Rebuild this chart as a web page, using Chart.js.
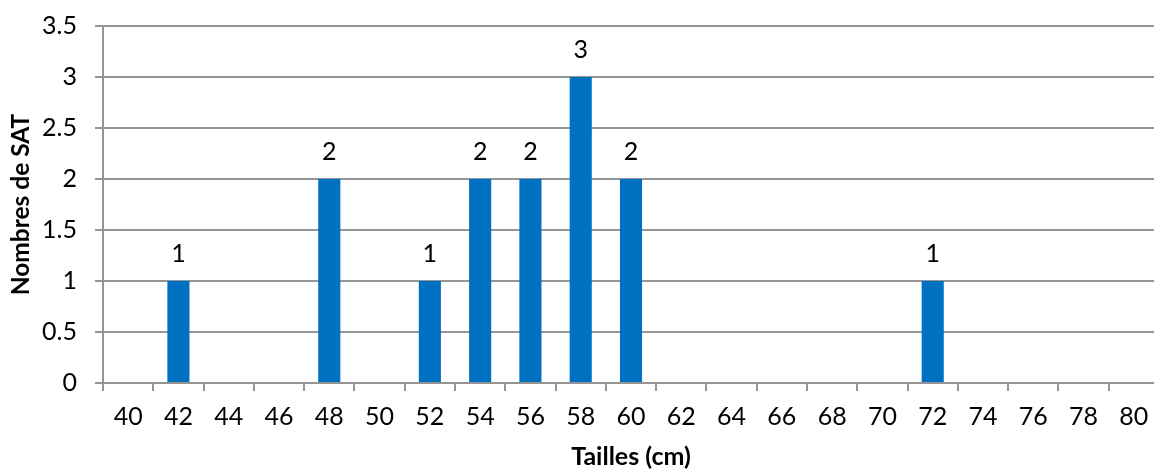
<!DOCTYPE html>
<html>
<head>
<meta charset="utf-8">
<script src="https://cdn.jsdelivr.net/npm/chart.js@4"></script>
<style>
  html, body { margin: 0; padding: 0; background: #fff; overflow: hidden; }
  #wrap { width: 1154px; height: 469px; overflow: hidden; position: relative; }
  canvas { display: block; }
</style>
</head>
<body>
<div id="wrap"><canvas id="c" width="1166" height="469" style="width:1166px;height:469px"></canvas></div>
<script>
// Data
const categories = ['40','42','44','46','48','50','52','54','56','58','60','62','64','66','68','70','72','74','76','78','80'];
const counts     = [null, 1, null, null, 2, null, 1, 2, 2, 3, 2, null, null, null, null, null, 1, null, null, null, null];
const yTicks = [0, 0.5, 1, 1.5, 2, 2.5, 3, 3.5];

const FONT = 'Lato, "Open Sans", sans-serif';
const GRID = '#959595';
const TICK_SIZE = 25;

const valueLabels = {
  id: 'valueLabels',
  afterDatasetsDraw(chart) {
    const ctx = chart.ctx;
    const meta = chart.getDatasetMeta(0);
    ctx.save();
    ctx.font = TICK_SIZE + 'px ' + FONT;
    ctx.fillStyle = '#000';
    ctx.textAlign = 'center';
    ctx.textBaseline = 'alphabetic';
    meta.data.forEach((bar, i) => {
      const v = chart.data.datasets[0].data[i];
      if (v === null || v === undefined) return;
      ctx.fillText(String(v), bar.x, bar.y - 19);
    });
    ctx.restore();
  }
};

new Chart(document.getElementById('c'), {
  type: 'bar',
  data: {
    labels: categories,
    datasets: [{
      data: counts,
      backgroundColor: '#0070C0',
      borderWidth: 0,
      barPercentage: 0.44,
      categoryPercentage: 1.0
    }]
  },
  options: {
    responsive: false,
    animation: false,
    devicePixelRatio: 1,
    layout: { padding: { top: 26, right: 7, left: 0, bottom: 0 } },
    plugins: { legend: { display: false }, tooltip: { enabled: false } },
    scales: {
      x: {
        offset: true,
        grid: { offset: true, drawOnChartArea: false, drawTicks: true, tickLength: 8, color: GRID, lineWidth: 2 },
        border: { color: GRID, width: 2 },
        ticks: { color: '#000', font: { family: FONT, size: TICK_SIZE }, padding: 11, maxRotation: 0, autoSkip: false },
        title: { display: true, text: 'Tailles (cm)', color: '#000', font: { family: FONT, size: 25, weight: 'bold', lineHeight: 1.0 }, padding: { top: 0, bottom: 0 } },
        afterFit(scale) { scale.height = 86; scale.paddingLeft = 0; scale.paddingRight = 0; }
      },
      y: {
        min: 0, max: 3.5,
        afterBuildTicks(scale) { scale.ticks = yTicks.map(v => ({ value: v })); },
        grid: { color: GRID, lineWidth: 2, tickLength: 8 },
        border: { color: GRID, width: 2 },
        ticks: { color: '#000', font: { family: FONT, size: TICK_SIZE }, padding: 18, callback: v => String(v) },
        title: { display: true, text: 'Nombres de SAT', color: '#000', font: { family: FONT, size: 24.5, weight: 'bold' }, padding: { top: 6, bottom: 0 } },
        afterFit(scale) { scale.width = 103; scale.paddingTop = 0; scale.paddingBottom = 0; }
      }
    }
  },
  plugins: [valueLabels]
});
</script>
</body>
</html>
